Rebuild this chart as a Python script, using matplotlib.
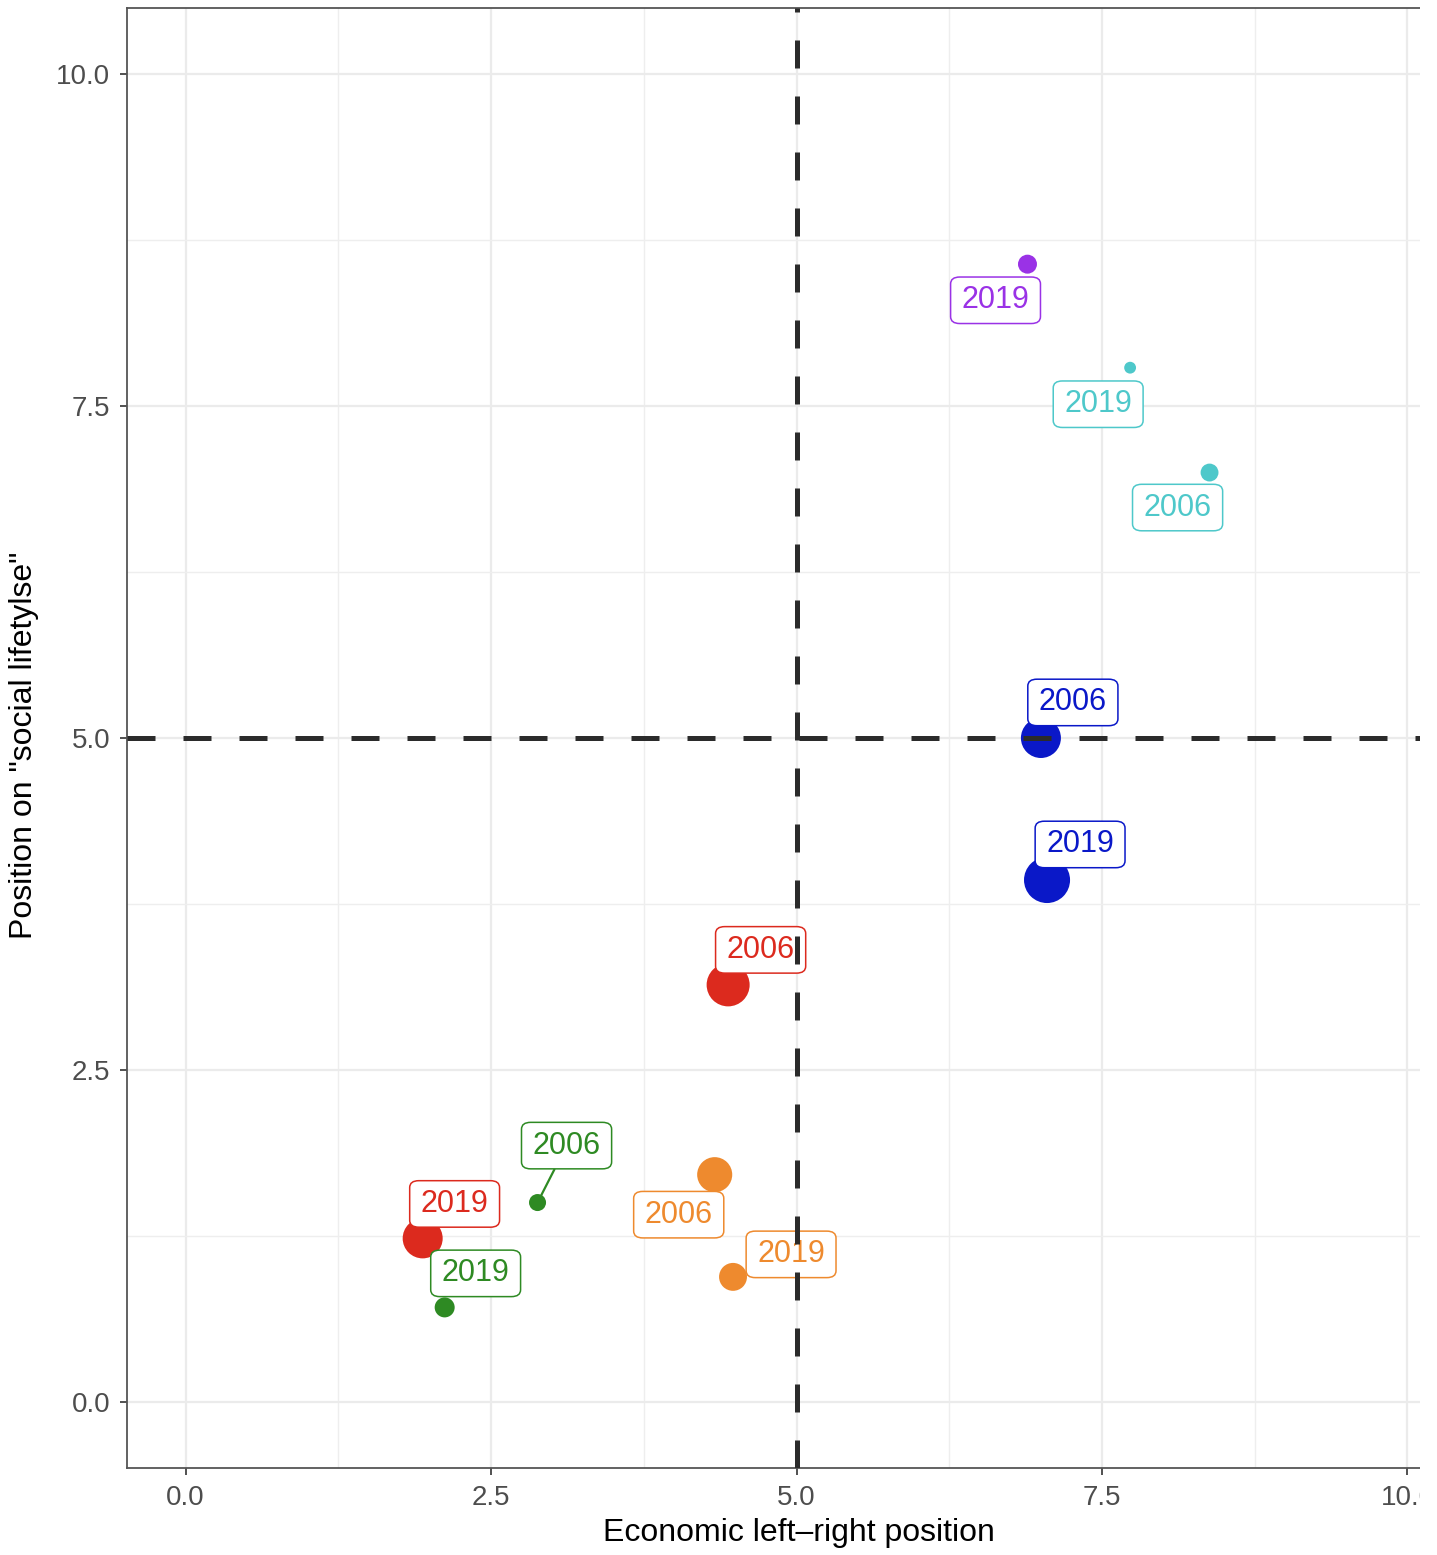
import matplotlib
matplotlib.use("Agg")
import matplotlib.pyplot as plt
from matplotlib.patches import Rectangle
from matplotlib.ticker import FixedLocator

plt.rcParams['font.family'] = ['Liberation Sans', 'DejaVu Sans']

# ---- data ----
party = ['Purple', 'Cyan', 'Cyan', 'Blue', 'Blue', 'Red', 'Red',
         'Green', 'Green', 'Orange', 'Orange']
year = ['2019', '2019', '2006', '2006', '2019', '2006', '2019',
        '2006', '2019', '2006', '2019']
econ = [6.89, 7.73, 8.38, 7.00, 7.05, 4.44, 1.94, 2.88, 2.12, 4.33, 4.48]
social = [8.57, 7.79, 7.00, 5.00, 3.93, 3.14, 1.23, 1.50, 0.71, 1.71, 0.94]
size_var = [3.6, 1.4, 3.2, 16.0, 21.2, 18.5, 16.0, 2.9, 4.0, 12.3, 7.8]

x_ticks = [0.0, 2.5, 5.0, 7.5, 10.0]
y_ticks = [0.0, 2.5, 5.0, 7.5, 10.0]
x_label = "Economic left\u2013right position"
y_label = 'Position on "social lifetylse"'

# ---- styling ----
colors = {'Purple': '#9A32E6', 'Cyan': '#4EC8CA', 'Blue': '#0A18C8',
          'Red': '#DC2A1E', 'Green': '#2E8A23', 'Orange': '#EE8A2E'}
# label offsets (points) from each point, mimicking ggrepel placement
label_offsets = [(-23, -26), (-23, -26.3), (-23, -25.2), (23, 25.6), (23.8, 25.6),
                 (23.4, 25.2), (23, 24.8), (20.9, 41), (22.3, 24.5),
                 (-25.9, -28.8), (41.8, 16.2)]

W, H = 1437, 1555
fig = plt.figure(figsize=(W / 100, H / 100), dpi=100)
ax = fig.add_axes([127 / W, 87 / H, 1344 / W, 1460 / H])
ax.set_xlim(-0.48, 10.52)
ax.set_ylim(-0.5, 10.5)

ax.xaxis.set_major_locator(FixedLocator(x_ticks))
ax.yaxis.set_major_locator(FixedLocator(y_ticks))
ax.xaxis.set_minor_locator(FixedLocator([1.25, 3.75, 6.25, 8.75]))
ax.yaxis.set_minor_locator(FixedLocator([1.25, 3.75, 6.25, 8.75]))
ax.set_xticklabels([f"{v:.1f}" for v in x_ticks])
ax.set_yticklabels([f"{v:.1f}" for v in y_ticks])
ax.grid(which='major', color='#EBEBEB', lw=1.6, zorder=0)
ax.grid(which='minor', color='#EEEEEE', lw=1.0, zorder=0)
ax.set_axisbelow(True)
ax.tick_params(which='major', length=5, width=1.2, color='#333333',
               labelsize=20, labelcolor='#4D4D4D', pad=7)
ax.tick_params(which='minor', length=0)
for s in ax.spines.values():
    s.set_color('#555555')
    s.set_linewidth(1.3)

# points
for i in range(len(econ)):
    ax.scatter(econ[i], social[i], s=51.84 * size_var[i], color=colors[party[i]],
               edgecolors='none', zorder=3)

# labels
for i in range(len(econ)):
    c = colors[party[i]]
    arrow = None
    if i == 7:
        arrow = dict(arrowstyle='-', color=c, lw=1.6, shrinkA=0, shrinkB=4)
    ax.annotate(year[i], xy=(econ[i], social[i]), xytext=label_offsets[i],
                textcoords='offset points', ha='center', va='center',
                fontsize=22, color=c,
                bbox=dict(boxstyle='round,pad=0.36,rounding_size=0.3', fc='white',
                          ec=c, lw=1.1, mutation_aspect=0.75),
                arrowprops=arrow, zorder=5)

# reference lines
ax.axhline(5, color='#2B2B2B', lw=3.6, dashes=(5.6, 5.6), zorder=10)
ax.axvline(5, color='#2B2B2B', lw=3.6, dashes=(5.6, 5.6), zorder=10)

ax.set_xlabel(x_label, fontsize=23, color='black')
ax.set_ylabel(y_label, fontsize=23, color='black')
ax.xaxis.set_label_coords(0.5, -0.0345)
ax.yaxis.set_label_coords(-0.0655, 0.495)

# crop on the right like the reference
fig.add_artist(Rectangle((1420 / W, 0), 17 / W, 1, transform=fig.transFigure,
                         facecolor='white', edgecolor='none', zorder=100))

fig.savefig('out.png', dpi=100, facecolor='white')
